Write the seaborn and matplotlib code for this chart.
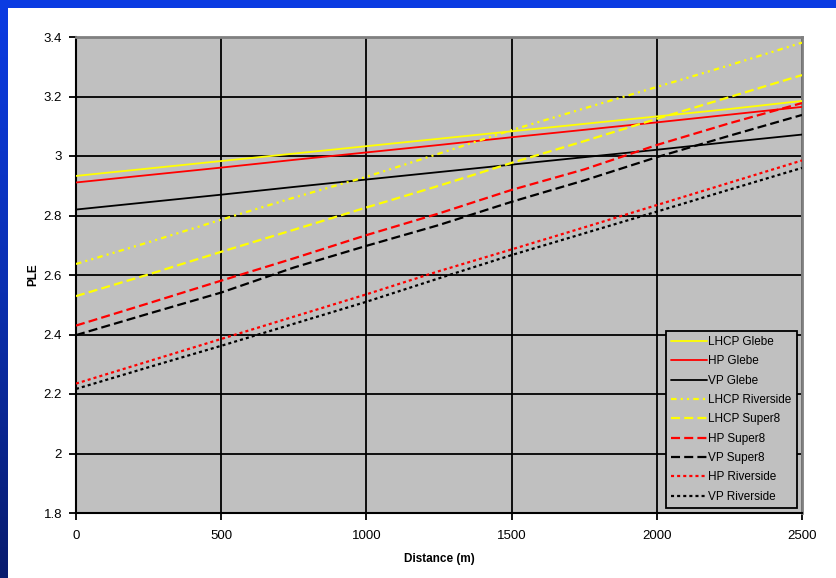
import numpy as np
import pandas as pd
import matplotlib
matplotlib.use("Agg")
import matplotlib.pyplot as plt
import seaborn as sns
from matplotlib.colors import LinearSegmentedColormap

# ---- data ----
distance = [0, 250, 500, 750, 1000, 1250, 1500, 1750, 2000, 2250, 2500]

lhcp_glebe = [2.933, 2.958, 2.983, 3.008, 3.033, 3.058, 3.083, 3.108, 3.133, 3.158, 3.185]
hp_glebe = [2.911, 2.936, 2.961, 2.987, 3.012, 3.037, 3.063, 3.088, 3.113, 3.139, 3.165]
vp_glebe = [2.820, 2.845, 2.870, 2.896, 2.921, 2.946, 2.971, 2.996, 3.021, 3.047, 3.072]
lhcp_riverside = [2.637, 2.710, 2.786, 2.860, 2.930, 3.008, 3.087, 3.160, 3.232, 3.305, 3.381]
lhcp_super8 = [2.529, 2.602, 2.678, 2.752, 2.827, 2.900, 2.977, 3.050, 3.125, 3.198, 3.272]
hp_super8 = [2.430, 2.505, 2.581, 2.656, 2.734, 2.807, 2.886, 2.955, 3.037, 3.110, 3.178]
vp_super8 = [2.398, 2.470, 2.541, 2.625, 2.698, 2.768, 2.846, 2.918, 2.996, 3.068, 3.138]
hp_riverside = [2.235, 2.310, 2.385, 2.460, 2.535, 2.613, 2.686, 2.760, 2.835, 2.910, 2.985]
vp_riverside = [2.217, 2.290, 2.362, 2.436, 2.510, 2.589, 2.667, 2.740, 2.813, 2.887, 2.960]

series_names = ["LHCP Glebe", "HP Glebe", "VP Glebe", "LHCP Riverside", "LHCP Super8",
                "HP Super8", "VP Super8", "HP Riverside", "VP Riverside"]
series_values = [lhcp_glebe, hp_glebe, vp_glebe, lhcp_riverside, lhcp_super8,
                 hp_super8, vp_super8, hp_riverside, vp_riverside]

y_ticks = [1.8, 2.0, 2.2, 2.4, 2.6, 2.8, 3.0, 3.2, 3.4]
y_tick_labels = ["1.8", "2", "2.2", "2.4", "2.6", "2.8", "3", "3.2", "3.4"]
x_ticks = [0, 500, 1000, 1500, 2000, 2500]

# ---- styles ----
colors = ["#FFFF00", "#FF0000", "#000000", "#FFFF00", "#FFFF00",
          "#FF0000", "#000000", "#FF0000", "#000000"]
styles = ["-", "-", "-",
          (0, (4, 3, 1.5, 3, 1.5, 3)),
          (0, (6.5, 3)),
          (0, (6.5, 3)),
          (0, (6.5, 3)),
          (0, (2.2, 2.2)),
          (0, (2.2, 2.2))]
widths = [1.3, 1.3, 1.3, 1.6, 1.6, 1.6, 1.6, 1.6, 1.6]

sns.set_theme(style="white")
plt.rcParams["font.family"] = ["Liberation Sans", "DejaVu Sans"]
plt.rcParams["lines.scale_dashes"] = False

fig = plt.figure(figsize=(8.36, 5.78), dpi=100)
fig.patch.set_facecolor("white")

# decorative slide border: top blue band and left gradient band
top_ax = fig.add_axes([0, 1 - 8 / 578, 1, 8 / 578])
top_ax.set_facecolor("#0A3BE2")
top_ax.set_xticks([]); top_ax.set_yticks([])
for s in top_ax.spines.values():
    s.set_visible(False)

left_ax = fig.add_axes([0, 0, 8 / 836, 1 - 8 / 578])
grad = np.linspace(0, 1, 256).reshape(-1, 1)
cmap = LinearSegmentedColormap.from_list("band", ["#0A3BE2", "#0A2FB0", "#081C6E"])
left_ax.imshow(grad, aspect="auto", cmap=cmap, origin="upper")
left_ax.set_xticks([]); left_ax.set_yticks([])
for s in left_ax.spines.values():
    s.set_visible(False)

ax = fig.add_axes([76 / 836, 1 - 513 / 578, 726 / 836, 476 / 578])
ax.set_facecolor("#C0C0C0")

for name, vals, c, ls, lw in zip(series_names, series_values, colors, styles, widths):
    sns.lineplot(x=distance, y=vals, ax=ax, color=c, linestyle=ls, linewidth=lw,
                 label=name, zorder=3)

ax.set_xlim(0, 2500)
ax.set_ylim(1.8, 3.4)
ax.set_xticks(x_ticks)
ax.set_xticklabels([str(t) for t in x_ticks])
ax.set_yticks(y_ticks)
ax.set_yticklabels(y_tick_labels)

ax.grid(True, color="black", linewidth=1.3, zorder=1)
ax.set_axisbelow(True)

ax.tick_params(axis="both", which="major", direction="out", length=5, width=1.3,
               color="black", labelsize=9.5, labelcolor="black",
               bottom=True, left=True)
ax.tick_params(axis="x", pad=7)
ax.tick_params(axis="y", pad=5)
ax.spines["left"].set_color("black")
ax.spines["bottom"].set_color("black")
ax.spines["left"].set_linewidth(1.5)
ax.spines["bottom"].set_linewidth(1.5)
ax.spines["top"].set_color("#808080")
ax.spines["right"].set_color("#808080")
ax.spines["top"].set_linewidth(2)
ax.spines["right"].set_linewidth(2)

ax.set_xlabel("Distance (m)", fontsize=8.5, fontweight="bold", color="black", labelpad=8)
ax.set_ylabel("PLE", fontsize=8.5, fontweight="bold", color="black", labelpad=3)

leg = ax.legend(loc="lower right", bbox_to_anchor=(0.993, 0.0105), borderaxespad=0,
                fontsize=8.5, frameon=True, fancybox=False, facecolor="#C0C0C0",
                edgecolor="black", framealpha=1, handlelength=3.0, handletextpad=0.15,
                labelspacing=0.62, borderpad=0.45)
leg.get_frame().set_linewidth(1.3)
for t in leg.get_texts():
    t.set_color("black")

fig.savefig("out.png", dpi=100, facecolor=fig.get_facecolor())
